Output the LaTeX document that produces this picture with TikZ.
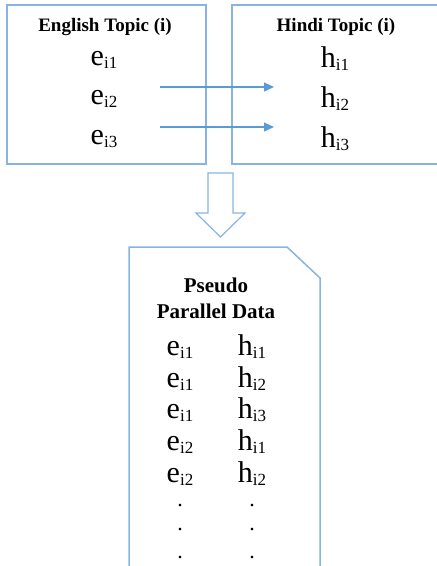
\documentclass[tikz,border=0pt]{standalone}
\usepackage{fontspec}
\setmainfont{Liberation Serif}
\usetikzlibrary{arrows.meta}
\definecolor{boxblue}{RGB}{135,180,226}
\definecolor{arrowblue}{RGB}{91,155,213}
\newcommand{\termsub}[2]{#1\raisebox{-3.5pt}{\fontsize{17}{17}\selectfont #2}}
\tikzset{
	frame/.style={draw=boxblue, line width=1.5pt},
	title/.style={anchor=base, inner sep=0pt, font=\fontsize{19}{21}\selectfont\bfseries},
	term/.style={anchor=base, inner sep=0pt, font=\fontsize{30}{32}\selectfont},
	flow/.style={draw=arrowblue, line width=1.3pt, -{Triangle[length=10pt,width=9pt]}}
}

\begin{document}
\begin{tikzpicture}[x=1pt,y=-1pt]
	\useasboundingbox (0,0) rectangle (437,566);
	\clip (0,0) rectangle (437,566);
	
	\coordinate (E1) at (7,5);
	\coordinate (E2) at (206,164);
	\coordinate (H1) at (232,5);
	\coordinate (H2) at (445,164);
	
	\draw[frame] (E1) rectangle (E2);
	\draw[frame] (H1) rectangle (H2);
	
	\node[title] (eng) at (105,31) {English Topic (i)};
	\node[title] (hin) at (336,31) {Hindi Topic (i)};
	
	\node[term] (e1) at (104,65) {\termsub{e}{i1}};
	\node[term] (e2) at (104,104) {\termsub{e}{i2}};
	\node[term] (e3) at (104,144) {\termsub{e}{i3}};
	\node[term] (h1) at (335,67) {\termsub{h}{i1}};
	\node[term] (h2) at (335,107) {\termsub{h}{i2}};
	\node[term] (h3) at (335,147) {\termsub{h}{i3}};
	
	\coordinate (e2out) at (160,87);
	\coordinate (h2in) at (274,87);
	\coordinate (e3out) at (160,127);
	\coordinate (h3in) at (274,127);
	\draw[flow] (e2out) -- (h2in);
	\draw[flow] (e3out) -- (h3in);
	
	% block arrow
	\draw[frame, line width=1.2pt, line join=miter] (208,173) -- (233,173) -- (233,213) -- (245,213)
		-- (220.5,237) -- (196,213) -- (208,213) -- cycle;
	
	% document
	\draw[frame] (129,580) -- (129,247) -- (287,247) -- (320,278) -- (320,580);
	
	\node[title, font=\fontsize{21}{23}\selectfont\bfseries] (ps) at (216,292) {Pseudo};
	\node[title, font=\fontsize{21}{23}\selectfont\bfseries] (pd) at (216,318) {Parallel Data};
	
	\node[term] (r1e) at (180,355) {\termsub{e}{i1}};
	\node[term] (r1h) at (252,355) {\termsub{h}{i1}};
	\node[term] (r2e) at (180,387) {\termsub{e}{i1}};
	\node[term] (r2h) at (252,387) {\termsub{h}{i2}};
	\node[term] (r3e) at (180,418) {\termsub{e}{i1}};
	\node[term] (r3h) at (252,418) {\termsub{h}{i3}};
	\node[term] (r4e) at (180,450) {\termsub{e}{i2}};
	\node[term] (r4h) at (252,450) {\termsub{h}{i1}};
	\node[term] (r5e) at (180,482) {\termsub{e}{i2}};
	\node[term] (r5h) at (252,482) {\termsub{h}{i2}};
	
	\node[term, font=\fontsize{22}{24}\selectfont] (d1e) at (180,506) {.};
	\node[term, font=\fontsize{22}{24}\selectfont] (d1h) at (252,506) {.};
	\node[term, font=\fontsize{22}{24}\selectfont] (d2e) at (180,530) {.};
	\node[term, font=\fontsize{22}{24}\selectfont] (d2h) at (252,530) {.};
	\node[term, font=\fontsize{22}{24}\selectfont] (d3e) at (180,558) {.};
	\node[term, font=\fontsize{22}{24}\selectfont] (d3h) at (252,558) {.};
\end{tikzpicture}
\end{document}
